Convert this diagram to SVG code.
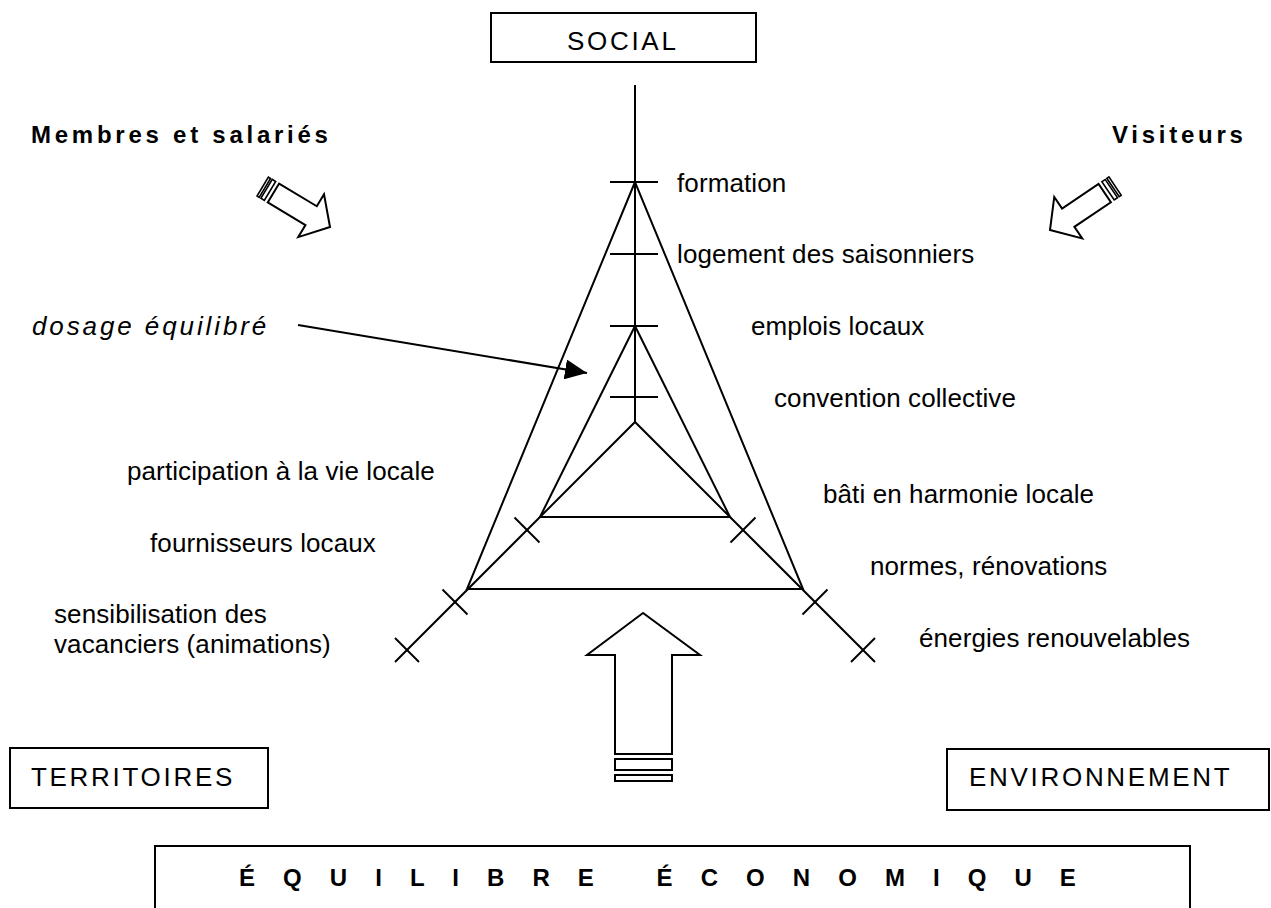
<svg xmlns="http://www.w3.org/2000/svg" width="1271" height="908" viewBox="0 0 1271 908">
<style>
  .ln{stroke:#000;stroke-width:2;fill:none;stroke-linecap:butt}
  .box{stroke:#000;stroke-width:2;fill:#fff}
  .blk{stroke:#000;stroke-width:2;fill:#fff;stroke-linejoin:miter}
  .lbl{font-family:"Liberation Sans",Arial,Helvetica,sans-serif;font-size:26px;fill:#000;letter-spacing:0.1px}
  .cap{font-family:"Liberation Sans",Arial,Helvetica,sans-serif;font-size:26px;fill:#000;letter-spacing:2.7px}
  .bold{font-family:"Liberation Sans",Arial,Helvetica,sans-serif;font-size:24px;font-weight:bold;fill:#000;letter-spacing:3.75px}
  .ital{font-family:"Liberation Sans",Arial,Helvetica,sans-serif;font-size:26px;font-style:italic;fill:#000;letter-spacing:2.9px}
  .eco{font-family:"Liberation Sans",Arial,Helvetica,sans-serif;font-size:24px;font-weight:bold;fill:#000;letter-spacing:10.7px}
</style>
<defs>
  <marker id="head" markerUnits="userSpaceOnUse" markerWidth="22" markerHeight="20" refX="22" refY="10" orient="auto">
    <path d="M0,0 L22,10 L0,20 Z" fill="#000"/>
  </marker>
  <g id="smallArrow">
    <path class="blk" d="M0,0 L-22,-25 L-22,-11 L-66,-11 L-66,11 L-22,11 L-22,25 Z"/>
    <rect class="blk" x="-74" y="-11" width="4" height="22" style="stroke-width:1.6"/>
    <rect class="blk" x="-78.5" y="-11" width="2.5" height="22" style="stroke-width:1.6"/>
  </g>
</defs>
<rect width="1271" height="908" fill="#fff"/>

<g id="node-social">
  <rect class="box" x="491" y="13" width="265" height="49"/>
  <text class="cap" x="567" y="50">SOCIAL</text>
</g>
<g id="node-territoires">
  <rect class="box" x="10" y="748" width="258" height="60"/>
  <text class="cap" x="31" y="786">TERRITOIRES</text>
</g>
<g id="node-environnement">
  <rect class="box" x="947" y="749" width="322" height="61"/>
  <text class="cap" x="969" y="786">ENVIRONNEMENT</text>
</g>
<g id="node-economique">
  <rect class="box" x="155" y="846" width="1035" height="80"/>
  <text class="eco" x="239" y="886" xml:space="preserve">É Q U I L I B R E   É C O N O M I Q U E</text>
</g>
<g id="node-membres">
  <text class="bold" x="31" y="143">Membres et salariés</text>
  <use href="#smallArrow" transform="translate(330,227) rotate(31)"/>
</g>
<g id="node-visiteurs">
  <text class="bold" x="1112" y="143">Visiteurs</text>
  <use href="#smallArrow" transform="translate(1050,230) rotate(146)"/>
</g>
<g id="node-economie-arrow">
  <path class="blk" d="M643,613 L587,655 L615,655 L615,754 L672,754 L672,655 L700,655 Z"/>
  <rect class="blk" x="615" y="759" width="57" height="11"/>
  <rect class="blk" x="615" y="775" width="57" height="6"/>
</g>

<g id="node-triangle">
  <line class="ln" x1="635" y1="85" x2="635" y2="422"/>
  <line class="ln" x1="610" y1="182" x2="658" y2="182"/>
  <line class="ln" x1="610" y1="254" x2="658" y2="254"/>
  <line class="ln" x1="610" y1="326" x2="658" y2="326"/>
  <line class="ln" x1="610" y1="397" x2="658" y2="397"/>
  <polygon class="ln" points="635,182 467,589 803,589"/>
  <polygon class="ln" points="635,326 540,517 730,517"/>
  <polyline class="ln" points="395,662 635,422 875,662"/>
  <line class="ln" x1="514.5" y1="517.5" x2="539.5" y2="542.5"/>
  <line class="ln" x1="442.5" y1="589.5" x2="467.5" y2="614.5"/>
  <line class="ln" x1="395" y1="638" x2="419" y2="662"/>
  <line class="ln" x1="755.5" y1="517.5" x2="730.5" y2="542.5"/>
  <line class="ln" x1="827.5" y1="589.5" x2="802.5" y2="614.5"/>
  <line class="ln" x1="875" y1="638" x2="851" y2="662"/>
</g>

<g id="node-labels-social">
  <text class="lbl" x="677" y="192">formation</text>
  <text class="lbl" x="677" y="263">logement des saisonniers</text>
  <text class="lbl" x="751" y="335">emplois locaux</text>
  <text class="lbl" x="774" y="407">convention collective</text>
</g>
<g id="node-labels-environnement">
  <text class="lbl" x="823" y="503">bâti en harmonie locale</text>
  <text class="lbl" x="870" y="575">normes, rénovations</text>
  <text class="lbl" x="919" y="647">énergies renouvelables</text>
</g>
<g id="node-labels-territoires">
  <text class="lbl" x="127" y="480">participation à la vie locale</text>
  <text class="lbl" x="150" y="552">fournisseurs locaux</text>
  <text class="lbl" x="54" y="623">sensibilisation des</text>
  <text class="lbl" x="54" y="653">vacanciers (animations)</text>
</g>
<g id="node-dosage">
  <text class="ital" x="32" y="335">dosage équilibré</text>
</g>

<g id="connectors">
  <line class="ln" x1="298" y1="325" x2="587" y2="373" marker-end="url(#head)"/>
</g>
</svg>
